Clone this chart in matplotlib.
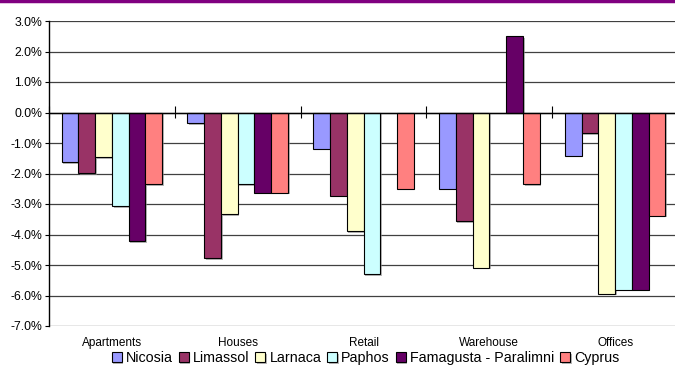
import numpy as np
import matplotlib
matplotlib.use("Agg")
import matplotlib.pyplot as plt
import matplotlib.patheffects as pe
from matplotlib.ticker import FuncFormatter

plt.rcParams['font.family'] = ['Liberation Sans', 'DejaVu Sans']

categories = ['Apartments', 'Houses', 'Retail', 'Warehouse', 'Offices']
regions = ['Nicosia', 'Limassol', 'Larnaca', 'Paphos',
           'Famagusta - Paralimni', 'Cyprus']
colors = ['#9999FF', '#993366', '#FFFFCC', '#CCFFFF', '#660066', '#FF8080']

# percentage change per category, one list per region
nicosia = [-1.62, -0.34, -1.19, -2.50, -1.42]
limassol = [-1.99, -4.78, -2.73, -3.56, -0.67]
larnaca = [-1.47, -3.33, -3.88, -5.09, -5.94]
paphos = [-3.07, -2.36, -5.30, 0.0, -5.81]
famagusta = [-4.21, -2.63, 0.0, 2.50, -5.81]
cyprus = [-2.34, -2.63, -2.50, -2.35, -3.38]
series = [nicosia, limassol, larnaca, paphos, famagusta, cyprus]

yticks = np.arange(-7, 4, 1)


def main():
    fig = plt.figure(figsize=(6.75, 3.71), dpi=100)
    ax = fig.add_axes([49 / 675, 1 - 326 / 371, 629 / 675, 305 / 371])

    x = np.arange(len(categories))
    n = len(series)
    width = 0.8 / n
    shadow = [pe.SimplePatchShadow(offset=(1.2, -1.2), shadow_rgbFace='#888888', alpha=0.6),
              pe.Normal()]
    for i, (vals, name, col) in enumerate(zip(series, regions, colors)):
        offs = x - 0.4 + width * (i + 0.5)
        bars = ax.bar(offs, vals, width, color=col, edgecolor='black',
                      linewidth=0.8, label=name, zorder=3)
        for b in bars:
            if b.get_height() == 0:
                b.set_visible(False)
            b.set_path_effects(shadow)

    ax.set_xlim(-0.5, len(categories) - 0.5)
    ax.set_ylim(-7, 3)
    ax.set_yticks(yticks)
    ax.yaxis.set_major_formatter(FuncFormatter(lambda v, p: f'{v:.1f}%'))
    ax.grid(axis='y', color='#404040', linewidth=0.9, zorder=0)
    ax.axhline(0, color='black', linewidth=1.0, zorder=4)

    for s in ['top', 'right', 'bottom']:
        ax.spines[s].set_visible(False)
    ax.spines['left'].set_linewidth(1.0)
    ax.tick_params(axis='y', length=3, width=0.8, labelsize=8.8, pad=2)

    ax.set_xticks(x)
    ax.set_xticklabels(categories)
    ax.tick_params(axis='x', length=0, labelsize=8.5, pad=8)

    # tick marks across the zero line between categories
    sec = ax.secondary_xaxis(0.7)
    sec.set_xticks(np.arange(-0.5, len(categories), 1))
    sec.tick_params(axis='x', direction='inout', length=8, width=0.8,
                    labelbottom=False, labeltop=False)
    sec.spines['bottom'].set_visible(False)
    sec.spines['top'].set_visible(False)

    fig.legend(loc='center', bbox_to_anchor=(0.5415, 1 - 358 / 371), ncol=6,
               frameon=False, fontsize=10.3, handlelength=0.7, handleheight=0.7,
               handletextpad=0.3, columnspacing=0.4)

    # purple rule at the top of the picture
    fig.add_artist(plt.Line2D([0, 1], [0.997, 0.997], color='#800080',
                              linewidth=2.5, transform=fig.transFigure))

    fig.savefig('out.png', dpi=100)


if __name__ == "__main__":
    main()
